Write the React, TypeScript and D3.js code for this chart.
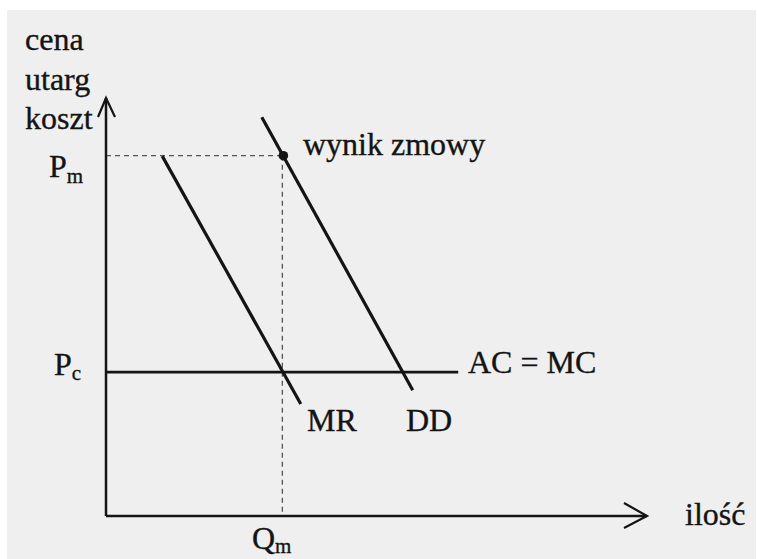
import React from "react";
import * as d3 from "d3";

// Data (abstract units: quantity 0..100, price 0..100)
const qAxisMax = 100;
const pAxisMax = 100;
const priceMonopoly = 86.2; // Pm
const priceCompetitive = 34.4; // Pc
const qtyMonopoly = 32.6; // Qm
const ddLine = [
  { q: 28.8, p: 95.4 },
  { q: 56.7, p: 30.1 },
];
const mrLine = [
  { q: 10.4, p: 86.1 },
  { q: 36.0, p: 26.8 },
];
const acmcEnd = 65.1;
const yLabelLines = ["cena", "utarg", "koszt"];

export default function App() {
  const W = 757;
  const H = 559;
  const x = d3.scaleLinear().domain([0, qAxisMax]).range([106, 647]);
  const y = d3.scaleLinear().domain([0, pAxisMax]).range([516, 98]);
  const line = d3
    .line<{ q: number; p: number }>()
    .x((d) => x(d.q))
    .y((d) => y(d.p));
  const ink = "#141414";
  const font = "'Liberation Serif', 'Times New Roman', serif";
  const x0 = x(0);
  const y0 = y(0);
  const xEnd = x(qAxisMax);
  const yEnd = y(pAxisMax);
  const fs = 32;
  const sub = 21;

  return (
    <svg
      width={W}
      height={H}
      style={{ position: "absolute", left: 0, top: 0, display: "block" }}
    >
      <rect x={0} y={0} width={W} height={H} fill="#ffffff" />
      <rect x={7} y={10} width={749} height={549} fill="#efefef" />

      {/* dashed guides */}
      <line
        x1={x0}
        x2={x(qtyMonopoly)}
        y1={y(priceMonopoly)}
        y2={y(priceMonopoly)}
        stroke="#555"
        strokeWidth={1.3}
        strokeDasharray="5,4"
      />
      <line
        x1={x(qtyMonopoly)}
        x2={x(qtyMonopoly)}
        y1={y(priceMonopoly)}
        y2={y0}
        stroke="#555"
        strokeWidth={1.3}
        strokeDasharray="5,4"
      />

      {/* AC = MC */}
      <line
        x1={x0}
        x2={x(acmcEnd)}
        y1={y(priceCompetitive)}
        y2={y(priceCompetitive)}
        stroke={ink}
        strokeWidth={2.7}
      />

      {/* DD and MR */}
      <path d={line(ddLine) || ""} stroke={ink} strokeWidth={3.2} fill="none" />
      <path d={line(mrLine) || ""} stroke={ink} strokeWidth={3.2} fill="none" />

      {/* axes */}
      <line x1={x0} x2={x0} y1={y0} y2={yEnd} stroke={ink} strokeWidth={2.5} />
      <line x1={x0} x2={xEnd} y1={y0} y2={y0} stroke={ink} strokeWidth={2.5} />
      <polyline
        points={`${x0 - 8},${yEnd + 19} ${x0},${yEnd} ${x0 + 9},${yEnd + 19}`}
        fill="none"
        stroke={ink}
        strokeWidth={2.2}
      />
      <polyline
        points={`${xEnd - 23},${y0 - 13} ${xEnd},${y0} ${xEnd - 23},${y0 + 12}`}
        fill="none"
        stroke={ink}
        strokeWidth={2.2}
      />

      {/* collusion point */}
      <circle cx={x(qtyMonopoly) + 1} cy={y(priceMonopoly)} r={4.8} fill={ink} />

      {/* labels */}
      <g fontFamily={font} fill={ink} stroke={ink} strokeWidth={0.35}>
        {yLabelLines.map((t, i) => (
          <text key={t} x={25} y={50 + i * 39.5} fontSize={fs}>
            {t}
          </text>
        ))}
        <text x={49} y={177} fontSize={fs}>
          P
          <tspan fontSize={sub} dy={6}>
            m
          </tspan>
        </text>
        <text x={54} y={375} fontSize={fs}>
          P
          <tspan fontSize={sub} dy={5}>
            c
          </tspan>
        </text>
        <text x={303} y={155} fontSize={fs}>
          wynik zmowy
        </text>
        <text x={468} y={373} fontSize={fs}>
          AC = MC
        </text>
        <text x={307} y={431} fontSize={fs}>
          MR
        </text>
        <text x={406} y={431} fontSize={fs}>
          DD
        </text>
        <text x={252} y={549} fontSize={fs}>
          Q
          <tspan fontSize={sub} dy={4}>
            m
          </tspan>
        </text>
        <text x={685} y={525} fontSize={fs}>
          ilość
        </text>
      </g>
    </svg>
  );
}
